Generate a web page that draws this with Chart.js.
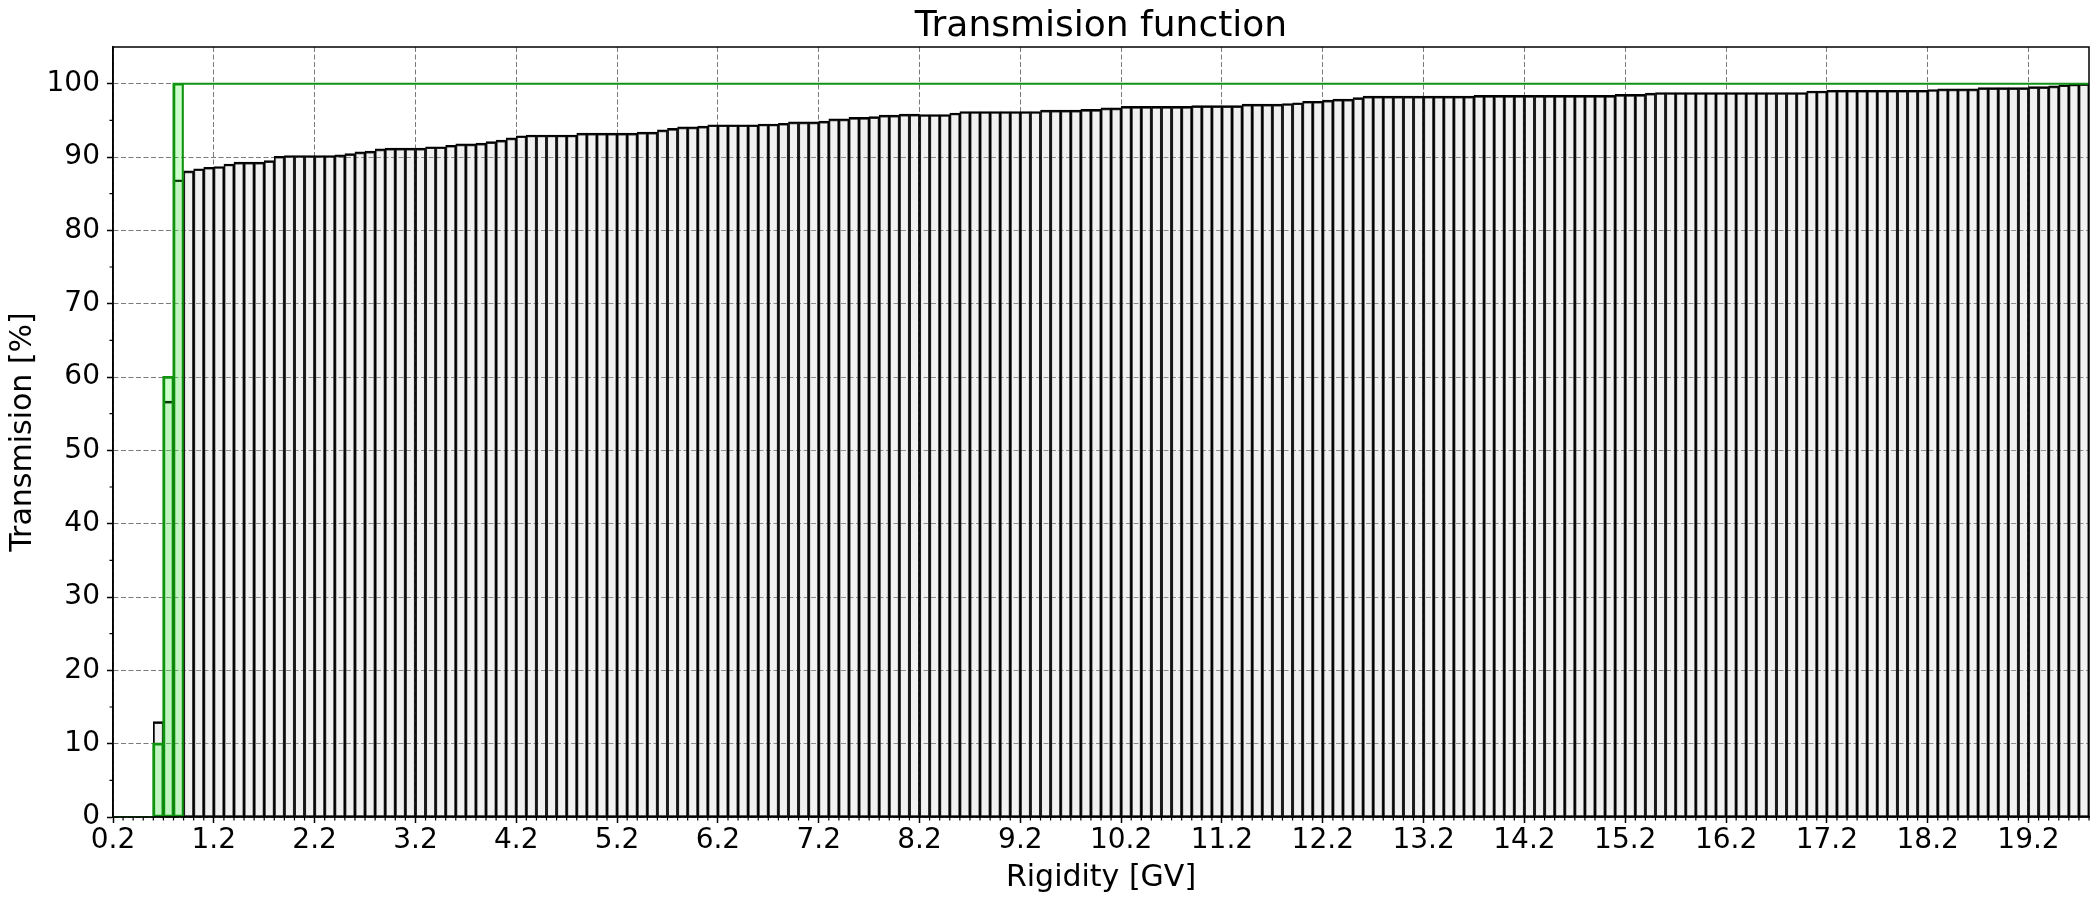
<!DOCTYPE html>
<html lang="en">

<head>
    <meta charset="UTF-8">
    <title>Transmision function</title>
    <script src="https://cdn.jsdelivr.net/npm/chart.js"></script>
    <style>
        body { margin: 0; background: #fff; }
        #wrap { width: 2098px; height: 900px; }
    </style>
</head>

<body>
    <div id="wrap"><canvas id="transChart"></canvas></div>

    <script>
        // histogram bins: 0.1 GV wide, first one starts at 0.2 GV
        const binStart = 0.2
        const binWidth = 0.1

        // transmission per bin [%] (grey bars), bins 0.2 ... 19.7
        const transmission = [
            0, 0, 0, 0, 13, 56.7, 86.9, 88.1, 88.4, 88.6,
            88.7, 89.05, 89.3, 89.3, 89.3, 89.5, 90.1, 90.2, 90.2, 90.2,
            90.2, 90.2, 90.3, 90.45, 90.7, 90.8, 91.1, 91.2, 91.2, 91.2,
            91.2, 91.4, 91.4, 91.6, 91.8, 91.8, 91.9, 92.1, 92.3, 92.6,
            92.9, 93.0, 93.0, 93.0, 93.0, 93.0, 93.25, 93.25, 93.25, 93.25,
            93.25, 93.25, 93.4, 93.4, 93.7, 93.9, 94.1, 94.1, 94.2, 94.4,
            94.4, 94.4, 94.4, 94.4, 94.5, 94.5, 94.6, 94.8, 94.8, 94.8,
            94.9, 95.2, 95.2, 95.4, 95.4, 95.5, 95.7, 95.7, 95.85, 95.85,
            95.8, 95.8, 95.8, 96.0, 96.2, 96.2, 96.2, 96.2, 96.2, 96.2,
            96.2, 96.2, 96.4, 96.4, 96.4, 96.4, 96.5, 96.5, 96.7, 96.7,
            96.9, 96.9, 96.9, 96.9, 96.9, 96.9, 96.9, 97.0, 97.0, 97.0,
            97.0, 97.0, 97.2, 97.2, 97.2, 97.2, 97.3, 97.4, 97.6, 97.6,
            97.75, 97.9, 97.9, 98.1, 98.3, 98.3, 98.3, 98.3, 98.3, 98.3,
            98.3, 98.3, 98.3, 98.3, 98.3, 98.4, 98.4, 98.4, 98.4, 98.4,
            98.4, 98.4, 98.4, 98.4, 98.4, 98.4, 98.4, 98.4, 98.4, 98.55,
            98.55, 98.55, 98.7, 98.8, 98.8, 98.8, 98.8, 98.8, 98.8, 98.8,
            98.8, 98.8, 98.8, 98.8, 98.8, 98.8, 98.8, 98.8, 99.0, 99.0,
            99.1, 99.1, 99.1, 99.1, 99.1, 99.1, 99.1, 99.1, 99.1, 99.1,
            99.2, 99.3, 99.3, 99.3, 99.3, 99.45, 99.45, 99.45, 99.45, 99.45,
            99.6, 99.6, 99.7, 99.85, 99.95, 100
        ]

        // green curve [%], same bins
        const penumbra = [
            0, 0, 0, 0, 10, 60, 100, 100, 100, 100,
            100, 100, 100, 100, 100, 100, 100, 100, 100, 100,
            100, 100, 100, 100, 100, 100, 100, 100, 100, 100,
            100, 100, 100, 100, 100, 100, 100, 100, 100, 100,
            100, 100, 100, 100, 100, 100, 100, 100, 100, 100,
            100, 100, 100, 100, 100, 100, 100, 100, 100, 100,
            100, 100, 100, 100, 100, 100, 100, 100, 100, 100,
            100, 100, 100, 100, 100, 100, 100, 100, 100, 100,
            100, 100, 100, 100, 100, 100, 100, 100, 100, 100,
            100, 100, 100, 100, 100, 100, 100, 100, 100, 100,
            100, 100, 100, 100, 100, 100, 100, 100, 100, 100,
            100, 100, 100, 100, 100, 100, 100, 100, 100, 100,
            100, 100, 100, 100, 100, 100, 100, 100, 100, 100,
            100, 100, 100, 100, 100, 100, 100, 100, 100, 100,
            100, 100, 100, 100, 100, 100, 100, 100, 100, 100,
            100, 100, 100, 100, 100, 100, 100, 100, 100, 100,
            100, 100, 100, 100, 100, 100, 100, 100, 100, 100,
            100, 100, 100, 100, 100, 100, 100, 100, 100, 100,
            100, 100, 100, 100, 100, 100, 100, 100, 100, 100,
            100, 100, 100, 100, 100, 100
        ]

        const xTicks = [0.2, 1.2, 2.2, 3.2, 4.2, 5.2, 6.2, 7.2, 8.2, 9.2,
            10.2, 11.2, 12.2, 13.2, 14.2, 15.2, 16.2, 17.2, 18.2, 19.2]
        const yTicks = [0, 10, 20, 30, 40, 50, 60, 70, 80, 90, 100]

        const nBins = transmission.length
        const edges = []
        for (let i = 0; i <= nBins; i++) edges.push(+(binStart + binWidth * i).toFixed(2))
        const centers = transmission.map((_, i) => +(binStart + binWidth * (i + 0.5)).toFixed(2))

        // green bars only where the curve is still rising
        const risingGreen = penumbra.map((v, i) =>
            ({ x: centers[i], y: (v > 0 && (i === 0 || penumbra[i - 1] < 100)) ? v : null }))
        const greenStep = penumbra.map((v, i) => ({ x: edges[i], y: v }))
        greenStep.push({ x: edges[nBins], y: penumbra[nBins - 1] })

        Chart.defaults.font.family = "'DejaVu Sans', sans-serif"
        Chart.defaults.color = '#000'

        // minor ticks + top/right frame
        const frameAndMinor = {
            id: 'frameAndMinor',
            afterDraw(chart) {
                const { ctx, chartArea: a, scales: { x, y } } = chart
                ctx.save()
                ctx.strokeStyle = '#000'
                ctx.lineWidth = 1.2
                ctx.beginPath()
                edges.forEach((v, i) => {
                    if (i % 10 === 0) return
                    const px = x.getPixelForValue(v)
                    ctx.moveTo(px, a.bottom)
                    ctx.lineTo(px, a.bottom + 3.5)
                })
                for (let v = 5; v < 105; v += 10) {
                    const py = y.getPixelForValue(v)
                    ctx.moveTo(a.left, py)
                    ctx.lineTo(a.left - 3.5, py)
                }
                ctx.stroke()
                ctx.lineWidth = 1.5
                ctx.strokeRect(a.left, a.top, a.right - a.left, a.bottom - a.top)
                ctx.restore()
            }
        }

        // title centred over the axes, like matplotlib
        const centerTitle = {
            id: 'centerTitle',
            afterLayout(chart) {
                const t = chart.titleBlock
                if (!t) return
                t.left = chart.chartArea.left
                t.right = chart.chartArea.right
                t.width = t.right - t.left
            }
        }

        const config = {
            type: 'bar',
            data: {
                datasets: [
                    {
                        type: 'line',
                        label: 'green step',
                        data: greenStep,
                        stepped: 'before',
                        borderColor: '#129412',
                        borderWidth: 2,
                        pointRadius: 0,
                        fill: false,
                        order: 1
                    },
                    {
                        label: 'penumbra',
                        data: risingGreen,
                        backgroundColor: 'rgba(0, 255, 0, 0.2)',
                        borderColor: '#0f8a0f',
                        borderWidth: 1.5,
                        borderSkipped: false,
                        grouped: false,
                        barPercentage: 1,
                        categoryPercentage: 1,
                        order: 2
                    },
                    {
                        label: 'transmission',
                        data: transmission.map((v, i) => ({ x: centers[i], y: v === 0 ? null : v })),
                        backgroundColor: 'rgba(200, 200, 200, 0.25)',
                        borderColor: '#000',
                        borderWidth: { top: 2, left: 1.2, right: 1.2, bottom: 1 },
                        borderSkipped: false,
                        grouped: false,
                        barPercentage: 1,
                        categoryPercentage: 1,
                        order: 3
                    }
                ]
            },
            options: {
                responsive: true,
                maintainAspectRatio: false,
                animation: false,
                layout: { padding: { left: 0, right: 9, top: 0, bottom: 0 } },
                plugins: {
                    legend: { display: false },
                    tooltip: { enabled: false },
                    title: {
                        display: true,
                        text: 'Transmision function',
                        font: { size: 36, weight: 'normal', lineHeight: 1 },
                        padding: { top: 9, bottom: 2 }
                    }
                },
                scales: {
                    x: {
                        type: 'linear',
                        min: 0.2,
                        max: 19.8,
                        offset: false,
                        afterBuildTicks: scale => { scale.ticks = xTicks.map(v => ({ value: v })) },
                        afterFit: scale => { scale.height = 83 },
                        ticks: {
                            autoSkip: false,
                            maxRotation: 0,
                            padding: 1,
                            font: { size: 28 },
                            callback: v => v.toFixed(1)
                        },
                        grid: {
                            offset: false,
                            color: '#7a7a7a',
                            lineWidth: 1,
                            drawTicks: true,
                            tickLength: 6,
                            tickColor: '#000',
                            tickWidth: 1.5
                        },
                        border: { color: '#000', width: 1.5, dash: [5, 2.5] },
                        title: {
                            display: true,
                            text: 'Rigidity [GV]',
                            font: { size: 30 },
                            padding: { top: 0, bottom: 4 }
                        }
                    },
                    y: {
                        min: 0,
                        max: 105,
                        afterBuildTicks: scale => { scale.ticks = yTicks.map(v => ({ value: v })) },
                        afterFit: scale => { scale.width = 113 },
                        ticks: {
                            padding: 7,
                            font: { size: 28 }
                        },
                        grid: {
                            color: '#7a7a7a',
                            lineWidth: 1,
                            drawTicks: true,
                            tickLength: 6,
                            tickColor: '#000',
                            tickWidth: 1.5
                        },
                        border: { color: '#000', width: 1.5, dash: [5, 2.5] },
                        title: {
                            display: true,
                            text: 'Transmision [%]',
                            font: { size: 30 },
                            padding: { top: 5, bottom: 0 }
                        }
                    }
                }
            },
            plugins: [frameAndMinor, centerTitle]
        }

        new Chart(document.getElementById('transChart').getContext('2d'), config)
    </script>
</body>

</html>
